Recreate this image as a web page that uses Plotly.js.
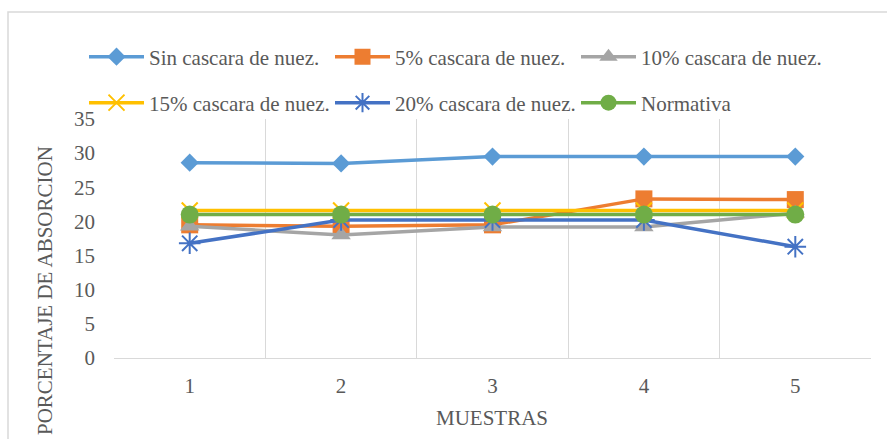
<!DOCTYPE html>
<html>
<head>
<meta charset="utf-8">
<script src="https://cdn.plot.ly/plotly-3.0.1.min.js"></script>
<style>
html,body{margin:0;padding:0;background:#fff;}
#chart{width:887px;height:439px;}
</style>
</head>
<body>
<div id="chart"></div>
<script>
const categories = ["1", "2", "3", "4", "5"];
const seriesNames = ["Sin cascara de nuez.", "5% cascara de nuez.", "10% cascara de nuez.", "15% cascara de nuez.", "20% cascara de nuez.", "Normativa"];
const sinCascara = [28.6, 28.5, 29.5, 29.5, 29.5];
const cascara5 = [19.5, 19.3, 19.5, 23.3, 23.2];
const cascara10 = [19.3, 18.0, 19.2, 19.2, 21.2];
const cascara15 = [21.6, 21.6, 21.6, 21.6, 21.6];
const cascara20 = [16.8, 20.2, 20.2, 20.2, 16.3];
const normativa = [21, 21, 21, 21, 21];
const yTicks = [0, 5, 10, 15, 20, 25, 30, 35];

const font = "Liberation Serif";
const txt = "#595959";
const values = [sinCascara, cascara5, cascara10, cascara15, cascara20, normativa];
const colors = ["#5B9BD5", "#ED7D31", "#A5A5A5", "#FFC000", "#4472C4", "#70AD47"];
const symbols = ["diamond", "square", "triangle-up", "x-thin-open", "asterisk-open", "circle"];
const sizes = [14, 17, 17, 16, 18, 18];

const traces = values.map((v, i) => ({
  type: "scatter", mode: "lines+markers",
  x: categories, y: v, name: seriesNames[i],
  legend: i < 3 ? "legend" : "legend2",
  line: {color: colors[i], width: 3.5},
  marker: {symbol: symbols[i], size: sizes[i], color: colors[i],
           line: {color: colors[i], width: (i === 3 || i === 4) ? 2 : 0}}
}));

const L = 114, R = 16, T = 119, B = 81;
const W = 887, H = 439;
const pw = W - L - R, ph = H - T - B;
const px = x => (x - L) / pw;
const py = y => (H - B - y) / ph;

const legendCommon = {
  orientation: "h", xanchor: "left", yanchor: "middle",
  font: {family: font, size: 21, color: txt},
  itemwidth: 55, entrywidth: 176, bgcolor: "rgba(0,0,0,0)",
  itemclick: false
};

const layout = {
  width: W, height: H,
  margin: {l: L, r: R, t: T, b: B},
  paper_bgcolor: "#fff", plot_bgcolor: "#fff",
  font: {family: font, color: txt, size: 21},
  showlegend: true,
  legend: Object.assign({}, legendCommon, {x: px(84), y: py(57)}),
  legend2: Object.assign({}, legendCommon, {x: px(84), y: py(103)}),
  xaxis: {
    type: "category", tickson: "boundaries",
    showgrid: true, gridcolor: "#d9d9d9", gridwidth: 1,
    showline: true, linecolor: "#d9d9d9", linewidth: 1,
    ticks: "", zeroline: false,
    tickfont: {family: font, size: 21, color: txt},
    ticklabelstandoff: 9,
    range: [-0.5, 4.5], fixedrange: true
  },
  yaxis: {
    range: [0, 35], tickvals: yTicks, showgrid: false, zeroline: false,
    showline: false, ticks: "",
    tickfont: {family: font, size: 21, color: txt},
    ticklabelstandoff: 18, fixedrange: true
  },
  shapes: [{
    type: "rect", xref: "paper", yref: "paper",
    x0: px(8), x1: px(900), y0: py(460), y1: py(12),
    line: {color: "#d9d9d9", width: 1.5}, fillcolor: "rgba(0,0,0,0)", layer: "below"
  }],
  annotations: [
    {text: "PORCENTAJE DE ABSORCION", textangle: -90, xref: "paper", yref: "paper",
     x: px(45), y: py(291), xanchor: "center", yanchor: "middle", showarrow: false,
     font: {family: font, size: 21, color: txt}},
    {text: "MUESTRAS", xref: "paper", yref: "paper",
     x: px(492), y: py(418), xanchor: "center", yanchor: "middle", showarrow: false,
     font: {family: font, size: 21, color: txt}}
  ]
};

Plotly.newPlot("chart", traces, layout, {displayModeBar: false, staticPlot: true});
</script>
</body>
</html>
